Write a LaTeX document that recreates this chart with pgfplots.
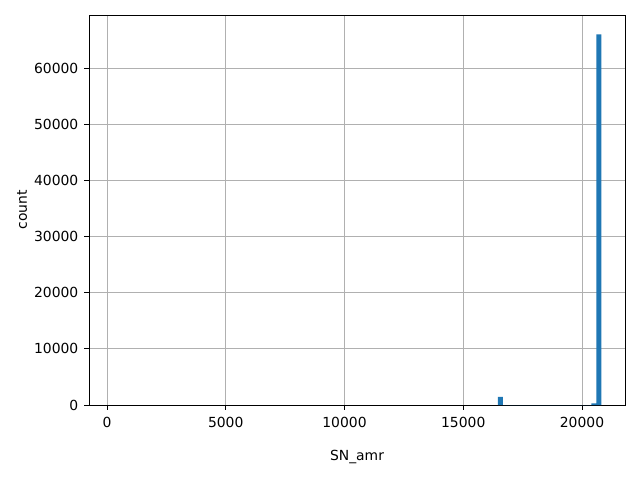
\documentclass[border=0pt]{standalone}
\usepackage{fontspec}
\setmainfont{DejaVu Sans}
\usepackage{pgfplots}
\pgfplotsset{compat=1.18}
\definecolor{mplblue}{HTML}{1F77B4}
\definecolor{gridgray}{HTML}{B0B0B0}
\begin{document}
\fontsize{13.9pt}{16pt}\selectfont
\begin{tikzpicture}
\begin{axis}[
  at={(0pt,0pt)}, anchor=south west,
  scale only axis, width=536pt, height=390pt,
  xmin=-758, xmax=21810, ymin=0, ymax=69430,
  xtick={0,5000,10000,15000,20000},
  ytick={0,10000,20000,30000,40000,50000,60000},
  scaled ticks=false,
  /pgf/number format/.cd, 1000 sep={}, assume math mode=true, /pgfplots/.cd,
  tick align=outside, major tick length=4.86pt,
  tick style={black, line width=0.9pt},
  xtick pos=bottom, ytick pos=left,
  axis line style={line width=0.9pt},
  grid=major, major grid style={gridgray, line width=0.8pt},
  ticklabel style={font=\fontsize{13.9pt}{16pt}\selectfont},
  xticklabel style={yshift=-2pt},
  yticklabel style={xshift=-1pt},
  xlabel={SN\_amr}, ylabel={count},
  label style={font=\fontsize{13.9pt}{16pt}\selectfont},
  xlabel style={at={(rel axis cs:0.5,0)}, anchor=center, yshift=-52pt},
  ylabel style={at={(rel axis cs:0,0.5)}, anchor=center, rotate=0, yshift=67pt},
]
\addplot[ybar interval, fill=mplblue, draw=none] coordinates {
  (16460,1450) (16670,0) (20390,300) (20600,66000) (20810,0)
};
\end{axis}
\path[use as bounding box] (-89pt,-75pt) rectangle (551pt,405pt);
\end{tikzpicture}
\end{document}
